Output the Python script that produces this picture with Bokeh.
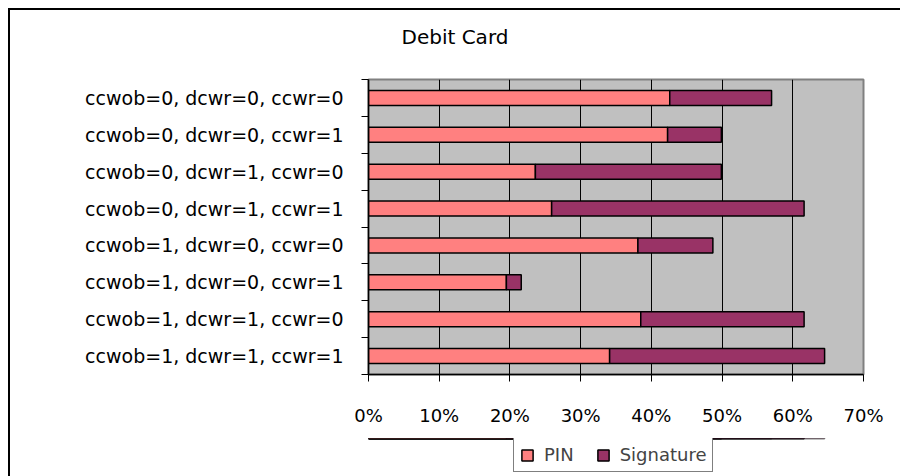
from bokeh.plotting import figure
from bokeh.layouts import column
from bokeh.models import (ColumnDataSource, Range1d, FixedTicker, NumeralTickFormatter,
                          Legend, Title)
from bokeh.embed import file_html
from bokeh.resources import INLINE

# ---- data ----
categories = [
    "ccwob=0, dcwr=0, ccwr=0",
    "ccwob=0, dcwr=0, ccwr=1",
    "ccwob=0, dcwr=1, ccwr=0",
    "ccwob=0, dcwr=1, ccwr=1",
    "ccwob=1, dcwr=0, ccwr=0",
    "ccwob=1, dcwr=0, ccwr=1",
    "ccwob=1, dcwr=1, ccwr=0",
    "ccwob=1, dcwr=1, ccwr=1",
]
pin = [0.426, 0.423, 0.236, 0.259, 0.381, 0.195, 0.385, 0.341]
signature = [0.144, 0.076, 0.263, 0.357, 0.106, 0.021, 0.231, 0.304]
x_ticks = [0.0, 0.1, 0.2, 0.3, 0.4, 0.5, 0.6, 0.7]
series_names = ["PIN", "Signature"]
series_colors = ["#FF8080", "#993366"]
title_text = "Debit Card"

n = len(categories)
ypos = [n - i - 0.5 for i in range(n)]
boundaries = [float(k) for k in range(n + 1)]

src = ColumnDataSource(dict(y=ypos, pin=pin, signature=signature, cat=categories))

FONT = "DejaVu Sans"
LEFT, RIGHT = 358, 39

# ---------------- main chart ----------------
p = figure(width=892, height=430, output_backend="svg", toolbar_location=None,
           x_range=Range1d(x_ticks[0], x_ticks[-1]), y_range=Range1d(0, n),
           min_border_left=LEFT, min_border_top=69, min_border_right=RIGHT,
           min_border_bottom=66)
p.styles = {"margin-left": "8px", "margin-top": "8px",
            "border-left": "2px solid black", "border-top": "2px solid black"}

p.background_fill_color = "#C0C0C0"
p.border_fill_color = "white"
p.outline_line_color = "#808080"
p.outline_line_width = 2

p.hbar_stack(["pin", "signature"], y="y", height=0.41, color=series_colors,
             line_color="black", line_width=1.5, source=src)

# title (outermost) plus a thin spacer between it and the frame
p.title.text = title_text
p.title.align = "left"
p.title.offset = 33
p.title.standoff = 24
p.title.text_font = FONT
p.title.text_font_size = "20px"
p.title.text_font_style = "normal"
p.title.text_color = "black"
p.add_layout(Title(text=" ", text_font_size="1px", standoff=16), "above")

# x axis
p.xaxis.ticker = FixedTicker(ticks=x_ticks)
p.xaxis.formatter = NumeralTickFormatter(format="0%")
p.xaxis.major_label_text_font = FONT
p.xaxis.major_label_text_font_size = "18px"
p.xaxis.major_label_text_color = "black"
p.xaxis.major_tick_out = 7
p.xaxis.major_tick_in = 0
p.xaxis.major_tick_line_color = "black"
p.xaxis.minor_tick_line_color = None
p.xaxis.axis_line_color = "black"
p.xaxis.axis_line_width = 1.5
p.xaxis.major_label_standoff = 23
p.xaxis.axis_label_standoff = 0

# y axis
p.yaxis.ticker = FixedTicker(ticks=ypos, minor_ticks=boundaries)
p.yaxis.major_label_overrides = {y: c for y, c in zip(ypos, categories)}
p.yaxis.major_label_text_font = FONT
p.yaxis.major_label_text_font_size = "19px"
p.yaxis.major_label_text_color = "black"
p.yaxis.major_tick_out = 0
p.yaxis.major_tick_in = 0
p.yaxis.minor_tick_out = 7
p.yaxis.minor_tick_in = 0
p.yaxis.minor_tick_line_color = "black"
p.yaxis.axis_line_color = "black"
p.yaxis.axis_line_width = 1.5
p.yaxis.major_label_standoff = 18

# grid
p.xgrid.grid_line_color = "black"
p.xgrid.grid_line_width = 1
p.xgrid.ticker = FixedTicker(ticks=x_ticks)
p.ygrid.grid_line_color = None

# ---------------- legend strip (same frame alignment as the chart) ----------------
p2 = figure(width=892, height=40, output_backend="svg", toolbar_location=None,
            x_axis_location=None, y_axis_location=None,
            x_range=Range1d(x_ticks[0], x_ticks[-1]), y_range=Range1d(-3, -2),
            min_border_left=LEFT, min_border_top=0, min_border_right=RIGHT,
            min_border_bottom=0)
p2.styles = {"margin-left": "8px", "border-left": "2px solid black"}
p2.grid.visible = False
p2.outline_line_color = None
p2.background_fill_color = "white"
p2.border_fill_color = "white"
rs2 = p2.hbar_stack(["pin", "signature"], y="y", height=0.41, color=series_colors,
                    line_color="black", line_width=1.5, source=src)

lg = Legend(items=[(nm, [r]) for nm, r in zip(series_names, rs2)],
            orientation="horizontal", location=(145, 6),
            border_line_color="black", border_line_width=1,
            background_fill_color="white", background_fill_alpha=1,
            label_text_font=FONT, label_text_font_size="18px",
            glyph_width=14, glyph_height=14, label_standoff=10,
            spacing=22, padding=6, margin=0)
p2.add_layout(lg, "center")

layout = column(p, p2, spacing=0)

html = file_html(layout, INLINE)
html = html.replace("<head>", "<head><style>html, body { overflow: hidden; }</style>", 1)
open("out.html", "w").write(html)
